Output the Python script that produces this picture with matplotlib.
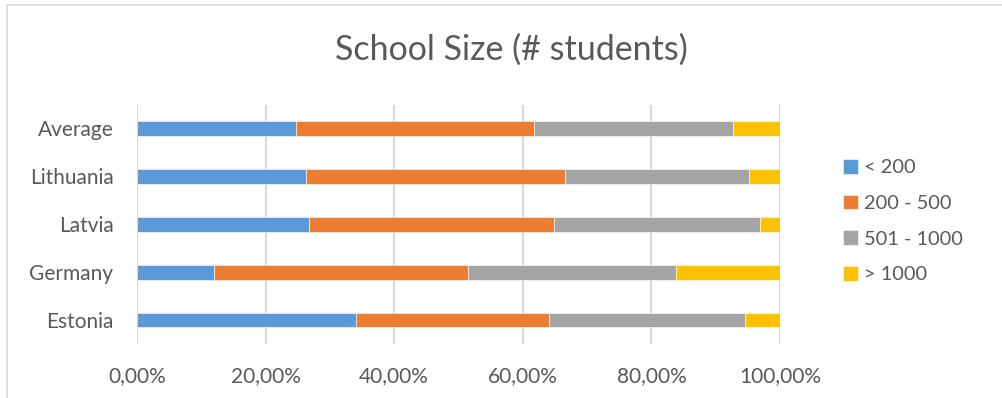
import matplotlib
matplotlib.use("Agg")
import matplotlib.pyplot as plt
from matplotlib.patches import Rectangle
from matplotlib.ticker import FuncFormatter
import numpy as np

plt.rcParams['font.family'] = ['Lato', 'DejaVu Sans']

countries = ["Estonia", "Germany", "Latvia", "Lithuania", "Average"]
size_groups = ["< 200", "200 - 500", "501 - 1000", "> 1000"]
share_lt200 = [34.1, 12.0, 26.8, 26.3, 24.7]
share_200_500 = [30.0, 39.5, 38.1, 40.2, 37.0]
share_501_1000 = [30.5, 32.3, 32.0, 28.7, 31.0]
share_gt1000 = [5.4, 16.2, 3.1, 4.8, 7.3]
colors = ["#5b9bd5", "#ed7d31", "#a5a5a5", "#ffc000"]
text_color = "#595959"

fig = plt.figure(figsize=(10.02, 3.98), dpi=100)

# light chart border
fig.patches.append(Rectangle((7 / 1002, -0.1), 1.2, 1 - 5.5 / 398 + 0.1,
                             transform=fig.transFigure, fill=False,
                             edgecolor="#d9d9d9", linewidth=1.2))

ax = fig.add_axes([137 / 1002, 1 - 344 / 398, 643 / 1002, (344 - 104.5) / 398])

y = np.arange(len(countries))
left = np.zeros(len(countries))
for vals, col, lab in zip([share_lt200, share_200_500, share_501_1000, share_gt1000],
                          colors, size_groups):
    vals = np.array(vals)
    ax.barh(y, vals, left=left, height=0.31, color=col, label=lab,
            edgecolor="white", linewidth=0.4, zorder=3)
    left += vals

ax.set_xlim(0, 100)
ax.set_ylim(-0.5, len(countries) - 0.5)
ax.set_xticks(np.arange(0, 101, 20))
ax.xaxis.set_major_formatter(FuncFormatter(lambda v, p: f"{v:.2f}%".replace(".", ",")))
ax.set_yticks(y)
ax.set_yticklabels(countries)
ax.grid(axis="x", color="#d9d9d9", linewidth=1.5, zorder=0)
for s in ax.spines.values():
    s.set_visible(False)
ax.tick_params(axis="x", length=0, pad=16, labelsize=15, labelcolor=text_color)
ax.tick_params(axis="y", length=0, pad=17, labelsize=15, labelcolor=text_color)

fig.text(511 / 1002, 1 - 50 / 398, "School Size (# students)", ha="center", va="center",
         fontsize=24.5, color=text_color)

leg = ax.legend(loc="upper left", bbox_to_anchor=(833 / 1002, 1 - 149 / 398),
                bbox_transform=fig.transFigure, frameon=False, fontsize=14.4,
                handlelength=0.75, handleheight=0.75, handletextpad=0.3,
                labelspacing=0.92, labelcolor=text_color, borderpad=0)

fig.savefig("out.png", dpi=100, facecolor="white")
